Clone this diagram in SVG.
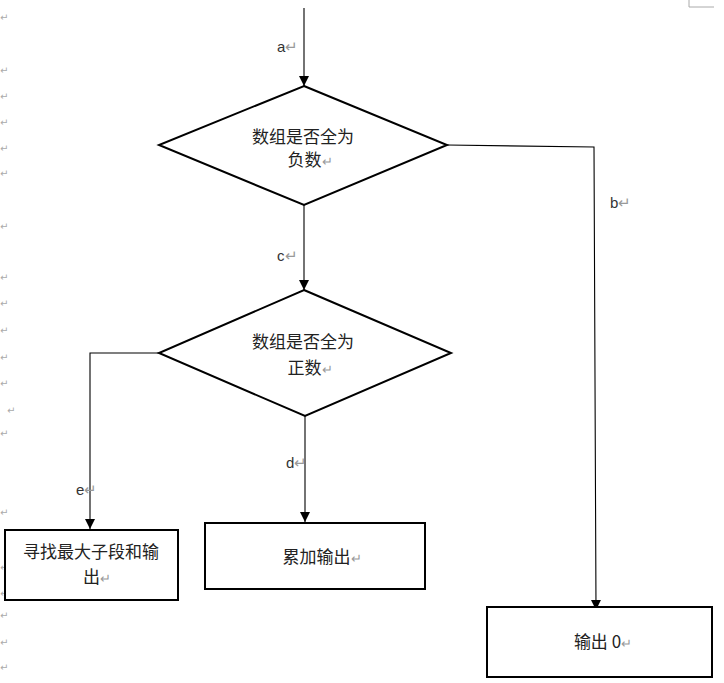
<svg xmlns="http://www.w3.org/2000/svg" width="724" height="683" viewBox="0 0 724 683">
<style>
.shape{fill:#fff;stroke:#000;stroke-width:2}
.conn{fill:none;stroke:#000;stroke-width:1.1}
.t{font-family:"Noto Sans CJK SC","Liberation Sans",sans-serif;font-size:17px;fill:#222;text-anchor:middle}
.lbl{font-family:"Liberation Sans","Noto Sans",sans-serif;font-size:15px;fill:#333}
.pm{fill:#999}
.mg{font-family:"DejaVu Sans",sans-serif;font-size:10px;fill:#aaa}
</style>
<defs>
<marker id="arr" viewBox="0 0 10 10" refX="10" refY="5" markerWidth="10" markerHeight="10" markerUnits="userSpaceOnUse" orient="auto">
<path d="M0,0 L10,5 L0,10 z" fill="#000"/>
</marker>
</defs>
<g id="margin">
<path d="M689,0 V7 H714" fill="none" stroke="#aaa" stroke-width="1"/>
<text class="mg" x="0" y="21">↵</text>
<text class="mg" x="0" y="74">↵</text>
<text class="mg" x="0" y="100">↵</text>
<text class="mg" x="0" y="126">↵</text>
<text class="mg" x="0" y="152">↵</text>
<text class="mg" x="0" y="177">↵</text>
<text class="mg" x="0" y="230">↵</text>
<text class="mg" x="0" y="281">↵</text>
<text class="mg" x="0" y="307">↵</text>
<text class="mg" x="0" y="334">↵</text>
<text class="mg" x="0" y="361">↵</text>
<text class="mg" x="0" y="387">↵</text>
<text class="mg" x="7" y="414" font-size="12">↵</text>
<text class="mg" x="0" y="437">↵</text>
<text class="mg" x="0" y="516">↵</text>
<text class="mg" x="0" y="571">↵</text>
<text class="mg" x="0" y="597">↵</text>
<text class="mg" x="0" y="619">↵</text>
<text class="mg" x="0" y="646">↵</text>
<text class="mg" x="0" y="671">↵</text>
</g>
<g id="connectors">
<line class="conn" x1="304" y1="8" x2="304" y2="86" marker-end="url(#arr)"/>
<polyline class="conn" points="447,145 594,147 596,610" marker-end="url(#arr)"/>
<line class="conn" x1="304" y1="205" x2="304" y2="290" marker-end="url(#arr)"/>
<polyline class="conn" points="159,353 90,353 90,529" marker-end="url(#arr)"/>
<line class="conn" x1="305" y1="416" x2="305" y2="522" marker-end="url(#arr)"/>
<text class="lbl" x="277" y="52">a<tspan class="pm">↵</tspan></text>
<text class="lbl" x="610" y="208">b<tspan class="pm">↵</tspan></text>
<text class="lbl" x="277" y="261">c<tspan class="pm">↵</tspan></text>
<text class="lbl" x="286" y="468">d<tspan class="pm">↵</tspan></text>
<text class="lbl" x="76" y="495">e<tspan class="pm">↵</tspan></text>
</g>
<g id="dec1">
<polygon class="shape" points="304,86 447,145 304,205 159,145"/>
<text class="t" x="303" y="143">数组是否全为</text>
<text class="t" x="310" y="166">负数<tspan class="pm" font-size="13">↵</tspan></text>
</g>
<g id="dec2">
<polygon class="shape" points="304,290 451,353 305,416 159,353"/>
<text class="t" x="303" y="348">数组是否全为</text>
<text class="t" x="310" y="374">正数<tspan class="pm" font-size="13">↵</tspan></text>
</g>
<g id="box1">
<rect class="shape" x="5" y="530" width="173" height="70"/>
<text class="t" x="91" y="558">寻找最大子段和输</text>
<text class="t" x="97" y="583">出<tspan class="pm" font-size="13">↵</tspan></text>
</g>
<g id="box2">
<rect class="shape" x="205" y="523" width="220" height="66"/>
<text class="t" x="322" y="563">累加输出<tspan class="pm" font-size="13">↵</tspan></text>
</g>
<g id="box3">
<rect class="shape" x="487" y="607" width="225" height="70"/>
<text class="t" x="603" y="648">输出 0<tspan class="pm" font-size="13">↵</tspan></text>
</g>
</svg>
